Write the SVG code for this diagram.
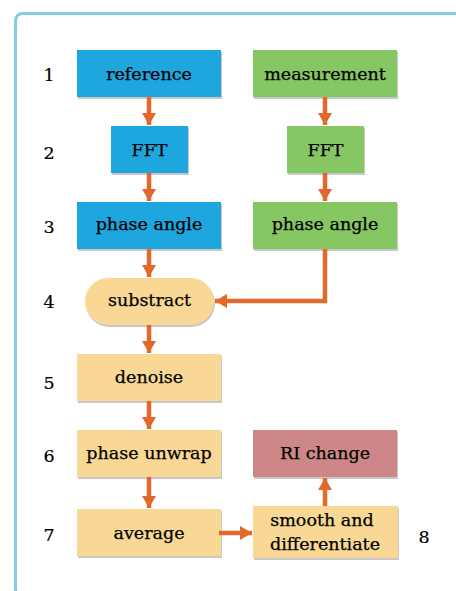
<svg xmlns="http://www.w3.org/2000/svg" width="456" height="591" viewBox="0 0 456 591">
<defs>
<style>
.lbl{font-family:"DejaVu Serif","Liberation Serif",serif;font-size:17.5px;fill:#000;stroke:#000;stroke-width:0.25;text-anchor:middle;dominant-baseline:central}
.num{font-family:"DejaVu Serif","Liberation Serif",serif;font-size:17.5px;fill:#000;stroke:#000;stroke-width:0.2;text-anchor:middle;dominant-baseline:central}
.blue{fill:#1ea6de}
.green{fill:#86c663}
.peach{fill:#f8d894}
.ri{fill:#cd8789}
.sh{fill:#9a9a9a;opacity:0.55}
.conn{stroke:#e2692b;stroke-width:4.5;fill:none}
</style>
<marker id="ah" viewBox="0 0 12 14" refX="12" refY="7" markerWidth="12" markerHeight="14" markerUnits="userSpaceOnUse" orient="auto">
<path d="M0,0 L12,7 L0,14 Z" fill="#e2692b"/>
</marker>
</defs>
<rect x="0" y="0" width="456" height="591" fill="#ffffff"/>
<rect x="15.5" y="13.5" width="446" height="582" rx="7" fill="none" stroke="#84cde0" stroke-width="3"/>

<g id="numbers">
<text class="num" x="49" y="75">1</text>
<text class="num" x="49" y="153">2</text>
<text class="num" x="49" y="227">3</text>
<text class="num" x="49" y="302">4</text>
<text class="num" x="49" y="383">5</text>
<text class="num" x="49" y="456">6</text>
<text class="num" x="49" y="535">7</text>
<text class="num" x="424" y="537">8</text>
</g>

<g id="n-reference"><rect class="sh" x="78" y="52" width="144" height="47"/><rect class="blue" x="77" y="50" width="144" height="47"/><text class="lbl" x="149" y="74">reference</text></g>
<g id="n-measurement"><rect class="sh" x="254" y="52" width="144" height="47"/><rect class="green" x="253" y="50" width="144" height="47"/><text class="lbl" x="325" y="74">measurement</text></g>
<g id="n-fft-ref"><rect class="sh" x="112" y="128" width="77" height="47"/><rect class="blue" x="111" y="126" width="77" height="47"/><text class="lbl" x="149.5" y="150">FFT</text></g>
<g id="n-fft-meas"><rect class="sh" x="288" y="128" width="77" height="47"/><rect class="green" x="287" y="126" width="77" height="47"/><text class="lbl" x="325.5" y="150">FFT</text></g>
<g id="n-phase-ref"><rect class="sh" x="78" y="204" width="144" height="47"/><rect class="blue" x="77" y="202" width="144" height="47"/><text class="lbl" x="149" y="224">phase angle</text></g>
<g id="n-phase-meas"><rect class="sh" x="254" y="204" width="144" height="47"/><rect class="green" x="253" y="202" width="144" height="47"/><text class="lbl" x="325" y="224">phase angle</text></g>
<g id="n-substract"><rect class="sh" x="86" y="280" width="129" height="47" rx="23.5"/><rect class="peach" x="85" y="278" width="129" height="47" rx="23.5"/><text class="lbl" x="149.5" y="300">substract</text></g>
<g id="n-denoise"><rect class="sh" x="78" y="356" width="144" height="47"/><rect class="peach" x="77" y="354" width="144" height="47"/><text class="lbl" x="149" y="377">denoise</text></g>
<g id="n-unwrap"><rect class="sh" x="78" y="432" width="144" height="47"/><rect class="peach" x="77" y="430" width="144" height="47"/><text class="lbl" x="149" y="453">phase unwrap</text></g>
<g id="n-average"><rect class="sh" x="78" y="511" width="144" height="47"/><rect class="peach" x="77" y="509" width="144" height="47"/><text class="lbl" x="149" y="533">average</text></g>
<g id="n-smooth"><rect class="sh" x="254" y="508" width="145" height="52"/><rect class="peach" x="253" y="506" width="145" height="52"/><text class="lbl" x="322" y="520">smooth and</text><text class="lbl" x="325" y="544">differentiate</text></g>
<g id="n-ri"><rect class="sh" x="254" y="432" width="144" height="47"/><rect class="ri" x="253" y="430" width="144" height="47"/><text class="lbl" x="325" y="453">RI change</text></g>

<g id="connectors">
<path class="conn" d="M149,97 V125" marker-end="url(#ah)"/>
<path class="conn" d="M325,97 V125" marker-end="url(#ah)"/>
<path class="conn" d="M149,173 V201" marker-end="url(#ah)"/>
<path class="conn" d="M325,173 V201" marker-end="url(#ah)"/>
<path class="conn" d="M149,249 V277" marker-end="url(#ah)"/>
<path class="conn" d="M325,249 V301 H215" marker-end="url(#ah)"/>
<path class="conn" d="M149,325 V353" marker-end="url(#ah)"/>
<path class="conn" d="M149,401 V429" marker-end="url(#ah)"/>
<path class="conn" d="M149,477 V508" marker-end="url(#ah)"/>
<path class="conn" d="M219,533 H252" marker-end="url(#ah)"/>
<path class="conn" d="M325,506 V478" marker-end="url(#ah)"/>
</g>
</svg>
